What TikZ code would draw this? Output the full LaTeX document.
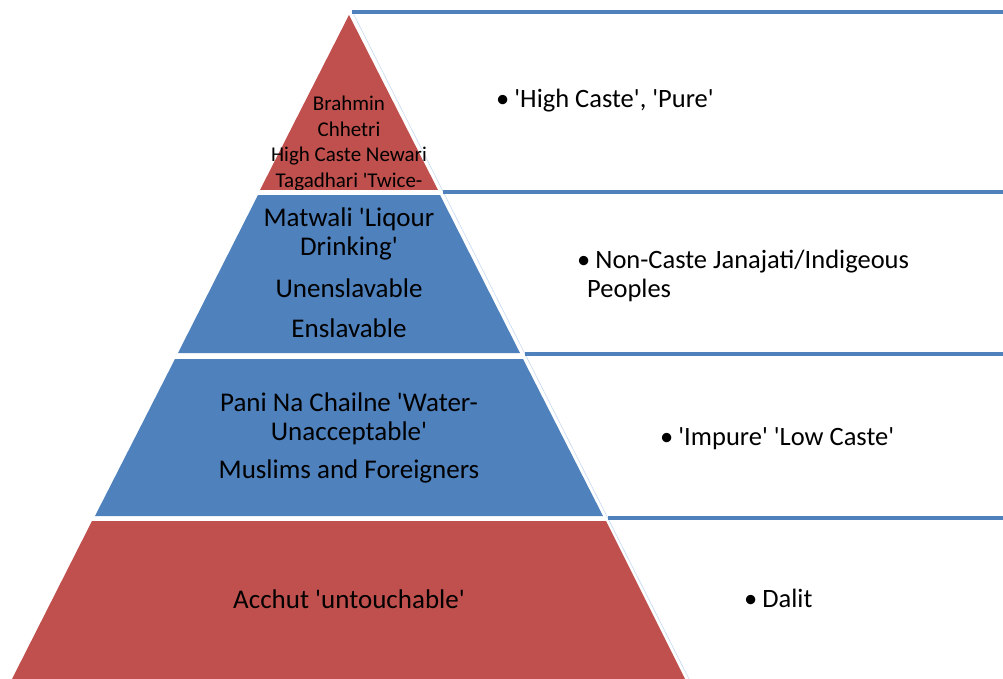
\documentclass[tikz,border=0pt]{standalone}
\usepackage{fontspec}
\newfontfamily\calfont{Carlito}
\definecolor{tierred}{HTML}{C0504D}
\definecolor{tierblue}{HTML}{4F81BD}
\definecolor{edgeblue}{HTML}{C6D9F1}
\tikzset{
  toptext/.style={font=\calfont\fontsize{21}{25.5}\selectfont, align=center, anchor=base, inner sep=0pt},
  tiertext/.style={font=\calfont\fontsize{27}{29}\selectfont, align=center, anchor=base, inner sep=0pt},
  bullettext/.style={font=\calfont\fontsize{26.5}{29}\selectfont, align=left, anchor=base west, inner sep=0pt},
  bandline/.style={draw=tierblue, line width=4.5pt},
}
\begin{document}
\begin{tikzpicture}[x=1pt,y=-1pt]
    \useasboundingbox (0,0) rectangle (1003,679);

    % Pyramid tiers
    \fill[tierred] (349,15) -- (438,190) -- (260,190) -- cycle;
    \fill[tierblue] (258,195) -- (440,195) -- (520,353) -- (178,353) -- cycle;
    \fill[tierblue] (175,359) -- (523,359) -- (603,516) -- (95,516) -- cycle;
    \fill[tierred] (92,521) -- (606,521) -- (686,681) -- (11,681) -- cycle;

    % Edge line and bands
    \coordinate (E0) at (352,11);
    \coordinate (E1) at (690,681);
    \draw[edgeblue, line width=0.6pt] (E0) -- (E1);
    \coordinate (B1) at (352,12);
    \coordinate (B2) at (443,192);
    \coordinate (B3) at (525,354);
    \coordinate (B4) at (608,518);
    \draw[bandline] (B1) -- (1003,12);
    \draw[bandline] (B2) -- (1003,192);
    \draw[bandline] (B3) -- (1003,354);
    \draw[bandline] (B4) -- (1003,518);

    % Tier labels (anchored at last baseline)
    \begin{scope}
        \clip (0,0) rectangle (1003,190);
        \node at (349,187) (T1) [toptext] {Brahmin\\Chhetri\\High Caste Newari\\Tagadhari 'Twice-};
    \end{scope}
    \node at (349,337) (T2) [tiertext] {Matwali 'Liqour\\Drinking'\\[13pt]Unenslavable\\[11pt]Enslavable};
    \node at (349,478) (T3) [tiertext] {Pani Na Chailne 'Water-\\Unacceptable'\\[9pt]Muslims and Foreigners};
    \node at (349,608) (T4) [tiertext] {Acchut 'untouchable'};

    % Right side bullets
    \node at (496,108) (R1) [bullettext] {•\hspace{5pt}'High Caste', 'Pure'};
    \node at (577,297) (R2) [bullettext] {•\hspace{5pt}Non-Caste Janajati/Indigeous\\\hspace{10pt}Peoples};
    \node at (660,445) (R3) [bullettext] {•\hspace{5pt}'Impure' 'Low Caste'};
    \node at (744,607) (R4) [bullettext] {•\hspace{5pt}Dalit};
\end{tikzpicture}
\end{document}
